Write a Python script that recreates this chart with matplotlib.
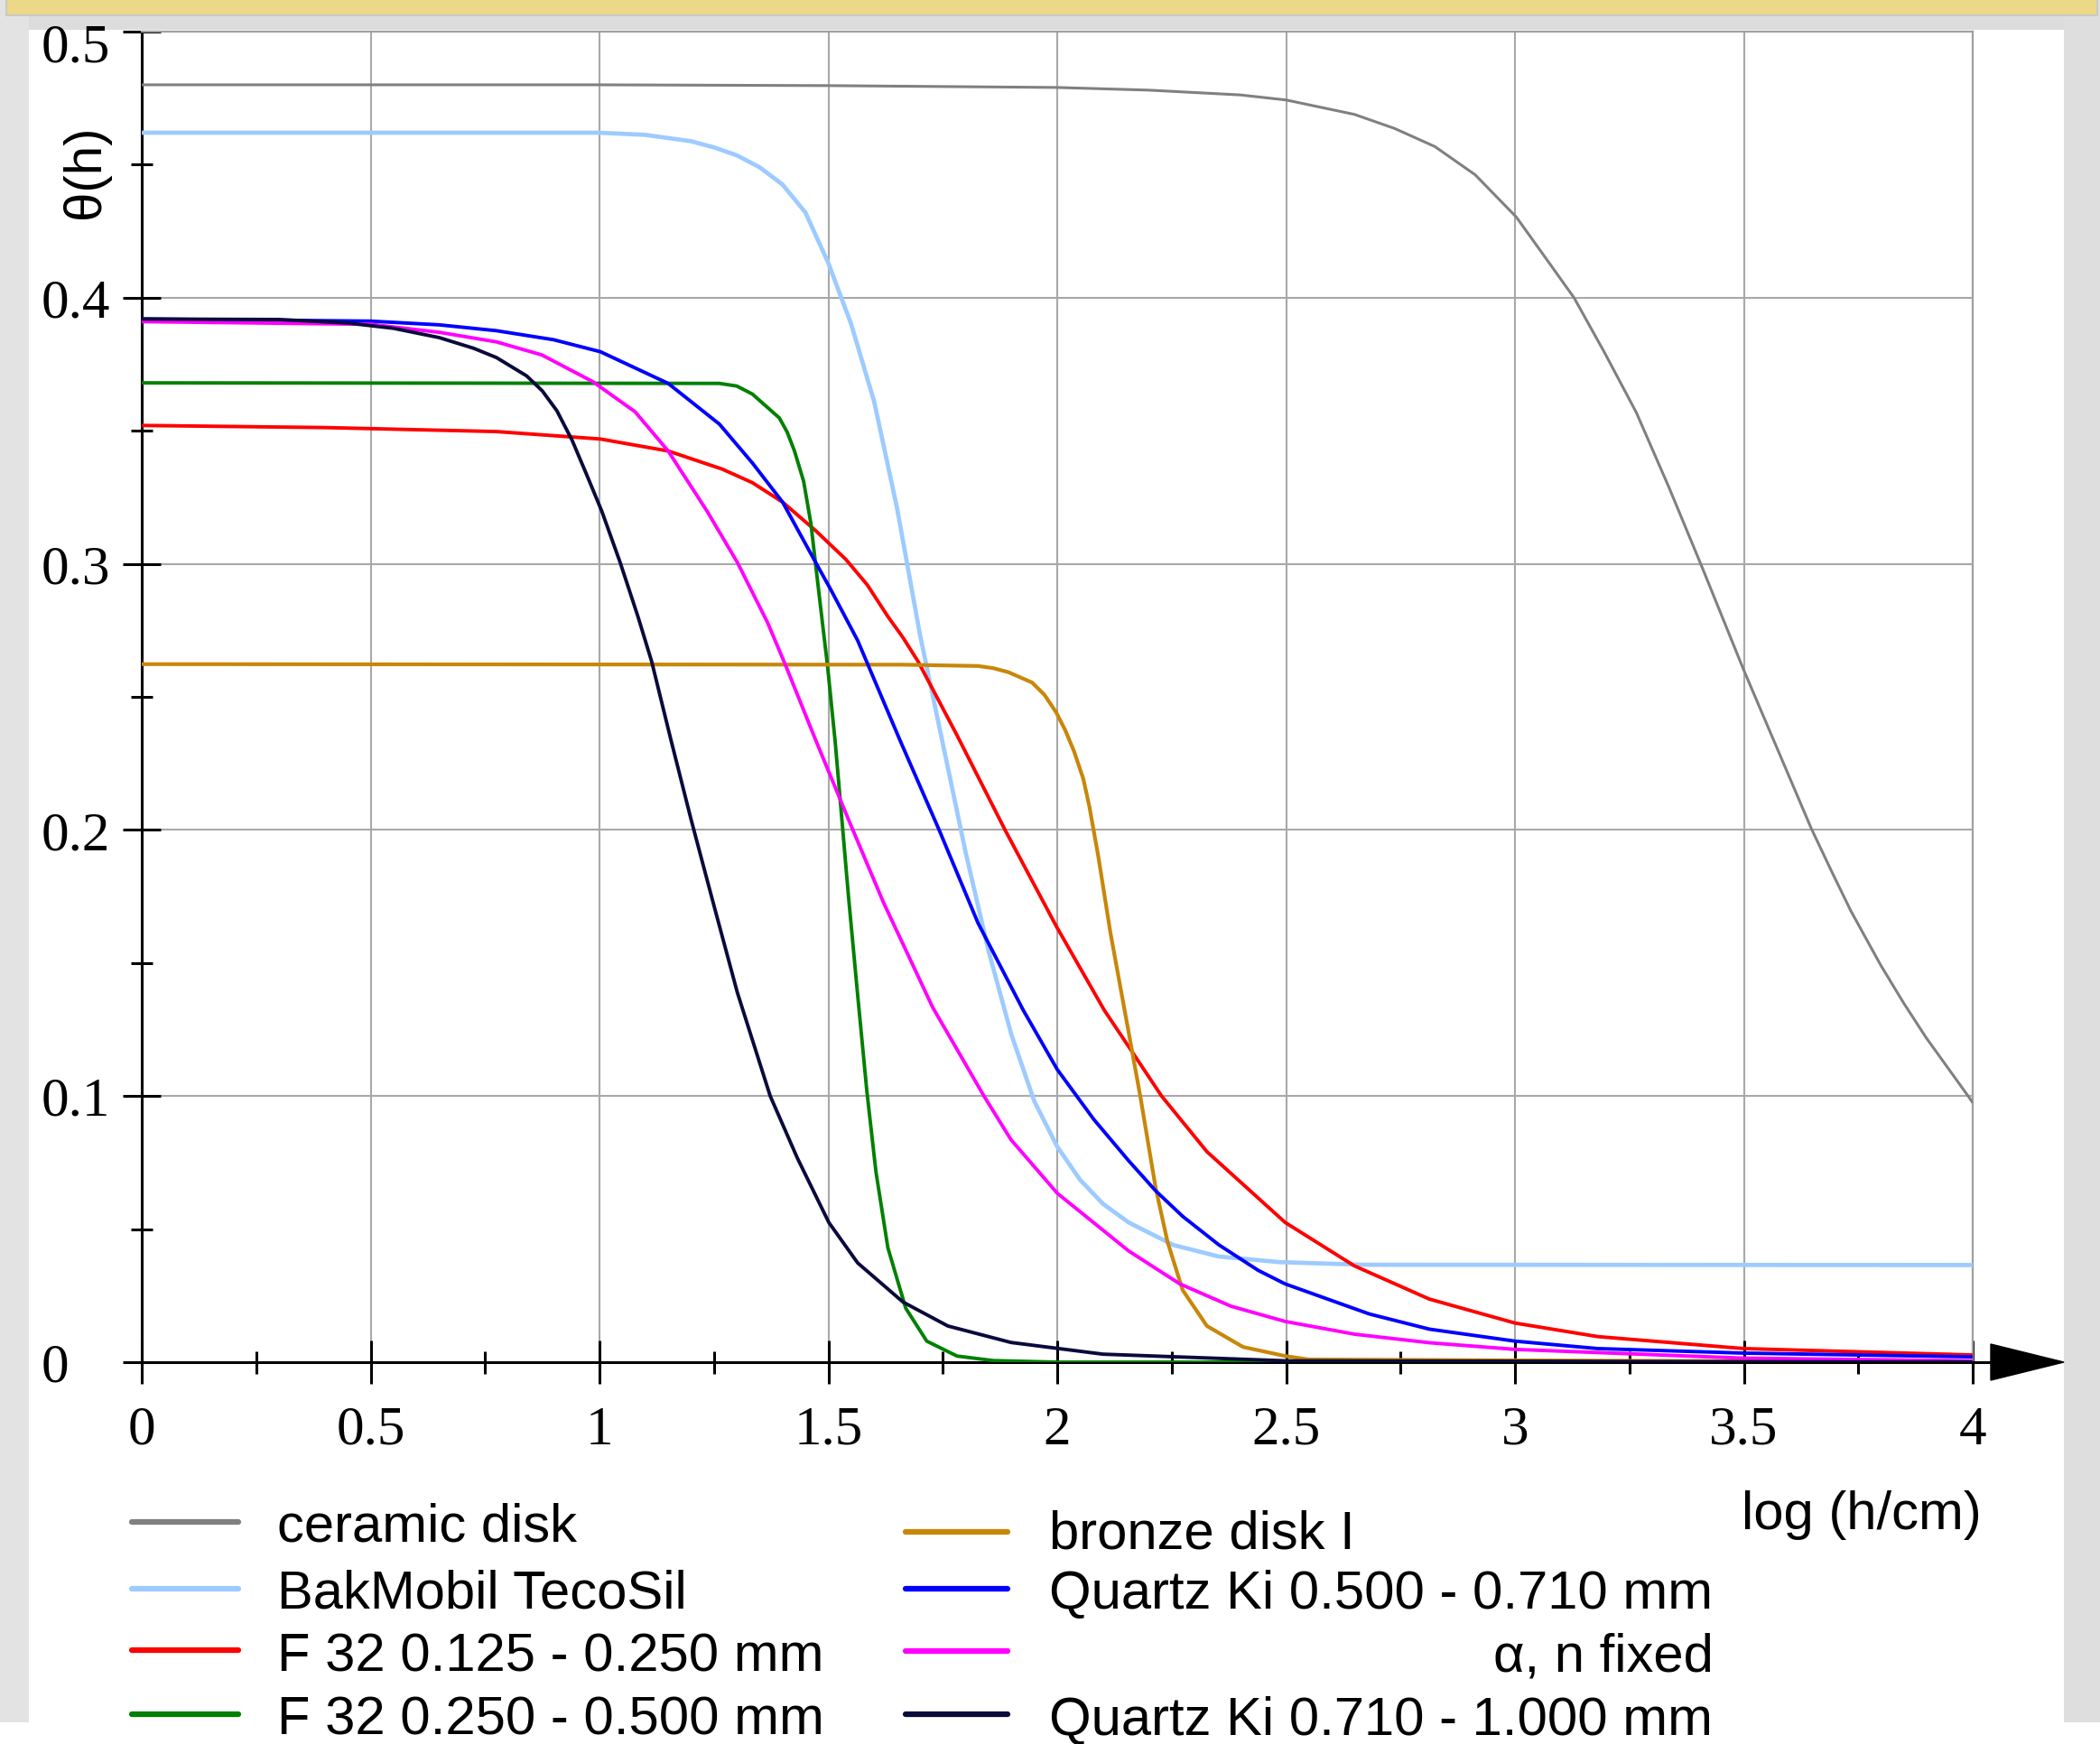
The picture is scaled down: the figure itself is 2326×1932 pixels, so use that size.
import matplotlib
matplotlib.use('Agg')
import matplotlib.pyplot as plt
from matplotlib.lines import Line2D
from matplotlib.patches import Rectangle, Polygon
from matplotlib.transforms import blended_transform_factory

# Retention curves theta(h), x = log(h/cm)
ceramic_x = [0, 1.0, 1.5, 2.0, 2.2, 2.4, 2.5, 2.649, 2.737, 2.825, 2.913, 3.003, 3.063, 3.129,
             3.195, 3.265, 3.336, 3.406, 3.5, 3.648, 3.691, 3.734, 3.799, 3.849, 3.898, 3.99, 4.0]
ceramic_y = [0.480, 0.480, 0.4797, 0.4790, 0.4780, 0.4762, 0.4743, 0.4689, 0.4636, 0.4568, 0.4462,
             0.4303, 0.4159, 0.400, 0.3796, 0.3569, 0.3289, 0.2999, 0.260, 0.2003, 0.1847,
             0.1695, 0.1492, 0.135, 0.122, 0.100, 0.0975]

bak_x = [0, 1.0, 1.1, 1.2, 1.25, 1.3, 1.35, 1.4, 1.45, 1.5, 1.55, 1.6, 1.65, 1.7, 1.75, 1.8,
         1.85, 1.9, 1.95, 2.0, 2.05, 2.1, 2.156, 2.254, 2.353, 2.485, 2.669, 4.0]
bak_y = [0.462, 0.4620, 0.4612, 0.4588, 0.4565, 0.4535, 0.4490, 0.4425, 0.4320, 0.4130, 0.390,
         0.361, 0.321, 0.2735, 0.2325, 0.1915, 0.1545, 0.123, 0.098, 0.081, 0.0685, 0.0595,
         0.0525, 0.044, 0.0397, 0.0376, 0.0366, 0.0365]

f32a_x = [0, 0.4, 0.775, 1.002, 1.15, 1.268, 1.334, 1.4, 1.472, 1.538, 1.585, 1.63, 1.663, 1.696,
          1.781, 1.886, 1.998, 2.103, 2.156, 2.228, 2.327, 2.498, 2.649, 2.813, 3.0, 3.181, 3.5, 4.0]
f32a_y = [0.352, 0.3512, 0.3497, 0.3469, 0.3424, 0.3356, 0.3305, 0.3232, 0.3125, 0.3017, 0.2921,
          0.2802, 0.2723, 0.2633, 0.2356, 0.200, 0.1638, 0.1322, 0.1186, 0.100, 0.0791, 0.0525,
          0.0362, 0.0237, 0.0147, 0.0096, 0.0051, 0.0027]

f32b_x = [0, 1.262, 1.30, 1.334, 1.393, 1.41, 1.426, 1.446, 1.462, 1.472, 1.489, 1.498, 1.515,
          1.544, 1.564, 1.584, 1.604, 1.630, 1.669, 1.715, 1.781, 1.86, 2.0, 4.0]
f32b_y = [0.368, 0.3678, 0.3668, 0.3638, 0.3548, 0.3495, 0.3424, 0.331, 0.315, 0.300, 0.275,
          0.262, 0.233, 0.175, 0.138, 0.102, 0.0715, 0.043, 0.0203, 0.0079, 0.0023, 0.0006,
          0.0, 0.0]

bronze_x = [0, 1.663, 1.827, 1.86, 1.893, 1.945, 1.972, 1.998, 2.018, 2.037, 2.057, 2.070, 2.090,
            2.116, 2.156, 2.182, 2.215, 2.241, 2.274, 2.327, 2.406, 2.498, 2.55, 4.0]
bronze_y = [0.2623, 0.2621, 0.2616, 0.2608, 0.2593, 0.2554, 0.2508, 0.2441, 0.2373, 0.2294,
            0.2192, 0.2090, 0.1898, 0.1616, 0.1240, 0.0994, 0.0655, 0.0452, 0.0271, 0.0136,
            0.0057, 0.0023, 0.001, 0.0]

qk05_x = [0, 0.5, 0.65, 0.775, 0.9, 1.002, 1.15, 1.262, 1.334, 1.40, 1.472, 1.505, 1.564, 1.656,
          1.742, 1.827, 1.926, 2.0, 2.08, 2.156, 2.215, 2.274, 2.353, 2.439, 2.498, 2.682, 2.813,
          3.0, 3.181, 3.5, 4.0]
qk05_y = [0.392, 0.3912, 0.3898, 0.3876, 0.3842, 0.3797, 0.3678, 0.3525, 0.3379, 0.3232, 0.3006,
          0.2904, 0.2712, 0.2339, 0.200, 0.165, 0.1322, 0.110, 0.0912, 0.0757, 0.0644, 0.0548,
          0.0441, 0.0345, 0.0294, 0.0181, 0.0124, 0.0079, 0.0051, 0.0034, 0.002]

fixed_x = [0, 0.5, 0.65, 0.775, 0.874, 0.986, 1.078, 1.15, 1.235, 1.301, 1.367, 1.406, 1.472,
           1.545, 1.62, 1.728, 1.84, 1.899, 2.0, 2.156, 2.268, 2.38, 2.498, 2.65, 2.813, 3.0,
           3.5, 4.0]
fixed_y = [0.391, 0.390, 0.387, 0.3834, 0.3785, 0.3684, 0.3571, 0.3424, 0.3198, 0.3006, 0.278,
           0.2621, 0.2339, 0.2035, 0.1729, 0.1333, 0.100, 0.0836, 0.0635, 0.0418, 0.0294, 0.021,
           0.0153, 0.0105, 0.0073, 0.0048, 0.0015, 0.0005]

qk07_x = [0, 0.3, 0.45, 0.55, 0.65, 0.725, 0.775, 0.841, 0.875, 0.907, 0.94, 0.972, 1.005, 1.045,
          1.084, 1.114, 1.156, 1.2, 1.248, 1.301, 1.373, 1.432, 1.501, 1.564, 1.663, 1.761, 1.899,
          2.1, 2.5, 4.0]
qk07_y = [0.392, 0.3918, 0.3905, 0.3885, 0.385, 0.381, 0.3775, 0.3706, 0.3650, 0.3575, 0.3465,
          0.3335, 0.3198, 0.3006, 0.2802, 0.2633, 0.2339, 0.204, 0.1729, 0.139, 0.100, 0.0768,
          0.0525, 0.0373, 0.0226, 0.0136, 0.0074, 0.003, 0.0005, 0.0]

labels = ['ceramic disk', 'BakMobil TecoSil', 'F 32 0.125 - 0.250 mm', 'F 32 0.250 - 0.500 mm',
          'bronze disk I', 'Quartz Ki 0.500 - 0.710 mm', 'α, n fixed', 'Quartz Ki 0.710 - 1.000 mm']
colors = ['#808080', '#9dcbff', '#ff0000', '#008000', '#c8870a', '#0000ff', '#ff00ff', '#0a0a3c']
widths = [2.2, 3.4, 2.8, 2.8, 3.0, 2.8, 2.8, 2.8]
curves = [(ceramic_x, ceramic_y), (bak_x, bak_y), (f32a_x, f32a_y), (f32b_x, f32b_y),
          (bronze_x, bronze_y), (qk05_x, qk05_y), (fixed_x, fixed_y), (qk07_x, qk07_y)]

x_ticks = [0, 0.5, 1, 1.5, 2, 2.5, 3, 3.5, 4]
x_ticklabels = ['0', '0.5', '1', '1.5', '2', '2.5', '3', '3.5', '4']
y_ticks = [0, 0.1, 0.2, 0.3, 0.4, 0.5]
y_ticklabels = ['0', '0.1', '0.2', '0.3', '0.4', '0.5']

W, H = 2326, 1933
fig = plt.figure(figsize=(W / 100, H / 100), dpi=100)
fig.patch.set_facecolor('white')


def fx(px):
    return px / W


def fy(py):
    return 1 - py / H


def rect(x0, y0, x1, y1, color, z=0):
    fig.add_artist(Rectangle((fx(x0), fy(y1)), fx(x1 - x0), (y1 - y0) / H,
                             transform=fig.transFigure, facecolor=color, edgecolor='none', zorder=z))


# window frame around the chart
rect(0, 0, W, 34, '#dcdcdc')
rect(0, 0, 32, 1909, '#e3e3e3')
rect(2286, 0, W, 1909, '#dedede')
rect(6, 0, 2324, 19, '#c9c9c9')
rect(8, 0, 2322, 17, '#ecd887')

ax = fig.add_axes([fx(157), fy(1510), fx(2185 - 157), (1510 - 36) / H])
ax.set_xlim(0, 4)
ax.set_ylim(0, 0.5)
ax.set_facecolor('white')

for (xs, ys), c, lw in zip(curves, colors, widths):
    ax.plot(xs, ys, color=c, lw=lw, solid_capstyle='butt', solid_joinstyle='round', zorder=3)

ax.set_xticks(x_ticks)
ax.set_xticklabels(x_ticklabels, fontfamily='Liberation Serif', fontsize=44)
ax.set_xticks([0.25, 0.75, 1.25, 1.75, 2.25, 2.75, 3.25, 3.75], minor=True)
ax.set_yticks(y_ticks)
ax.set_yticklabels([])
ax.set_yticks([0.05, 0.15, 0.25, 0.35, 0.45], minor=True)

ax.tick_params(axis='x', which='major', direction='inout', length=34, width=2.2, pad=17, color='black')
ax.tick_params(axis='x', which='minor', direction='inout', length=18, width=2.2, color='black')
ax.tick_params(axis='y', which='major', direction='inout', length=30, width=2.2, color='black')
ax.tick_params(axis='y', which='minor', direction='inout', length=17, width=2.2, color='black')

ax.grid(True, which='major', color='#a8a8a8', lw=1.5, zorder=1)
ax.set_axisbelow(True)

for s in ['top', 'right']:
    ax.spines[s].set_color('#a0a0a0')
    ax.spines[s].set_linewidth(1.6)
for s in ['left', 'bottom']:
    ax.spines[s].set_color('black')
    ax.spines[s].set_linewidth(2.2)
    ax.spines[s].set_zorder(2.5)

# y tick labels are left aligned in the reference
blend = blended_transform_factory(ax.transAxes, ax.transData)
for v, t in zip(y_ticks, y_ticklabels):
    off = 0.006 if v == 0.5 else 0.002
    ax.text(-0.0547, v - off, t, transform=blend, ha='left', va='center',
            fontfamily='Liberation Serif', fontsize=44)

# x axis arrow
axw = 2185 - 157
axh = 1510 - 36
ax.add_line(Line2D([1.0, (2208 - 157) / axw], [0, 0], transform=ax.transAxes,
                   color='black', lw=2.2, clip_on=False))
ax.add_patch(Polygon([((2205 - 157) / axw, 20 / axh), ((2286 - 157) / axw, 0),
                      ((2205 - 157) / axw, -20 / axh)], closed=True, transform=ax.transAxes,
                     facecolor='black', edgecolor='black', clip_on=False))

fig.text(fx(95), fy(190), 'θ(h)', rotation=90, ha='center', va='center',
         fontfamily='Liberation Sans', fontsize=42)
fig.text(fx(2195), fy(1694), 'log (h/cm)', ha='right', va='baseline',
         fontfamily='Liberation Sans', fontsize=43)

# legend, two columns
col1 = dict(lx0=146, lx1=264, tx=307)
col2 = dict(lx0=1003, lx1=1116, tx=1162)
line_y = [1687, 1761, 1829, 1900, 1698, 1761, 1830, 1900]
base_y = [1708, 1782, 1852, 1922, 1716, 1782, 1852, 1922]
for i, (lab, c) in enumerate(zip(labels, colors)):
    col = col1 if i < 4 else col2
    fig.add_artist(Line2D([fx(col['lx0']), fx(col['lx1'])], [fy(line_y[i]), fy(line_y[i])],
                          transform=fig.transFigure, color=c, lw=4.5, solid_capstyle='round'))
    if lab.startswith('α'):
        fig.text(fx(1898), fy(base_y[i]), lab, ha='right', va='baseline',
                 fontfamily='Liberation Sans', fontsize=43)
    else:
        fig.text(fx(col['tx']), fy(base_y[i]), lab, ha='left', va='baseline',
                 fontfamily='Liberation Sans', fontsize=43)

fig.savefig('out.png', dpi=100)
